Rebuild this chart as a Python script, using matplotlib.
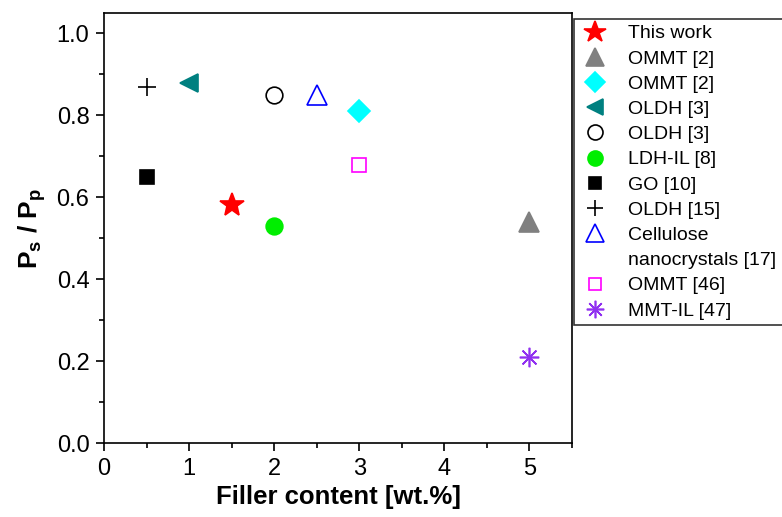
import matplotlib.pyplot as plt
from matplotlib.lines import Line2D
from matplotlib.ticker import MultipleLocator

plt.rcParams["font.family"] = ["Liberation Sans", "DejaVu Sans"]
plt.rcParams["mathtext.fontset"] = "custom"
plt.rcParams["mathtext.rm"] = "Liberation Sans"
plt.rcParams["mathtext.bf"] = "Liberation Sans:bold"

labels = ["This work", "OMMT [2]", "OMMT [2]", "OLDH [3]", "OLDH [3]", "LDH-IL [8]",
          "GO [10]", "OLDH [15]", "Cellulose", "OMMT [46]", "MMT-IL [47]"]
filler = [1.5, 5.0, 3.0, 1.0, 2.0, 2.0, 0.5, 0.5, 2.5, 3.0, 5.0]
ratio = [0.58, 0.54, 0.81, 0.88, 0.85, 0.53, 0.65, 0.87, 0.85, 0.68, 0.21]

markers = ["*", "^", "D", "<", "o", "o", "s", "+", "^", "s", (8, 2, 0)]
faces = ["red", "gray", "cyan", "teal", "none", "#00ee00", "black", "black", "none", "none", "#9030f0"]
edges = ["red", "gray", "cyan", "teal", "black", "#00ee00", "black", "black", "blue", "#ff00ff", "#9030f0"]
sizes = [18, 14, 11, 13, 12, 12, 10, 13, 14, 10, 14]

fig = plt.figure(figsize=(7.82, 5.17), dpi=100)
ax = fig.add_axes([0.133, 0.1431, 0.5985, 0.8318])

handles = []
for i in range(len(labels)):
    h, = ax.plot(filler[i], ratio[i], linestyle="none", marker=markers[i], markersize=sizes[i],
                 markerfacecolor=faces[i], markeredgecolor=edges[i],
                 markeredgewidth=1.2, label=labels[i])
    handles.append(h)

# second line of the cellulose entry, no marker
leg_handles = handles[:9] + [Line2D([], [], linestyle="none")] + handles[9:]
leg_labels = labels[:9] + ["nanocrystals [17]"] + labels[9:]

ax.set_xlim(0, 5.5)
ax.set_ylim(0, 1.05)
ax.xaxis.set_major_locator(MultipleLocator(1))
ax.xaxis.set_minor_locator(MultipleLocator(0.5))
ax.yaxis.set_major_locator(MultipleLocator(0.2))
ax.yaxis.set_minor_locator(MultipleLocator(0.1))
ax.yaxis.set_major_formatter(plt.FormatStrFormatter("%.1f"))
ax.tick_params(which="both", direction="out", labelsize=17, width=1.2, pad=5)
ax.tick_params(which="major", length=5.5)
ax.tick_params(which="minor", length=3.5)
for s in ax.spines.values():
    s.set_linewidth(1.2)

ax.set_xlabel("Filler content [wt.%]", fontsize=18.5, fontweight="bold", labelpad=4)
ax.set_ylabel(r"$\mathbf{P_s}$ / $\mathbf{P_p}$", fontsize=19, fontweight="bold", labelpad=6)

leg = fig.legend(leg_handles, leg_labels, loc="upper left",
                 bbox_to_anchor=(574 / 782, 1 - 19 / 517, 0.3, 0), mode="expand",
                 fontsize=14, frameon=True, fancybox=False, edgecolor="black",
                 borderaxespad=0, handletextpad=0.9, labelspacing=0.39,
                 borderpad=0.3, handlelength=1.6, markerscale=0.9)
leg.get_frame().set_linewidth(1.2)

fig.savefig("out.png", dpi=100)
